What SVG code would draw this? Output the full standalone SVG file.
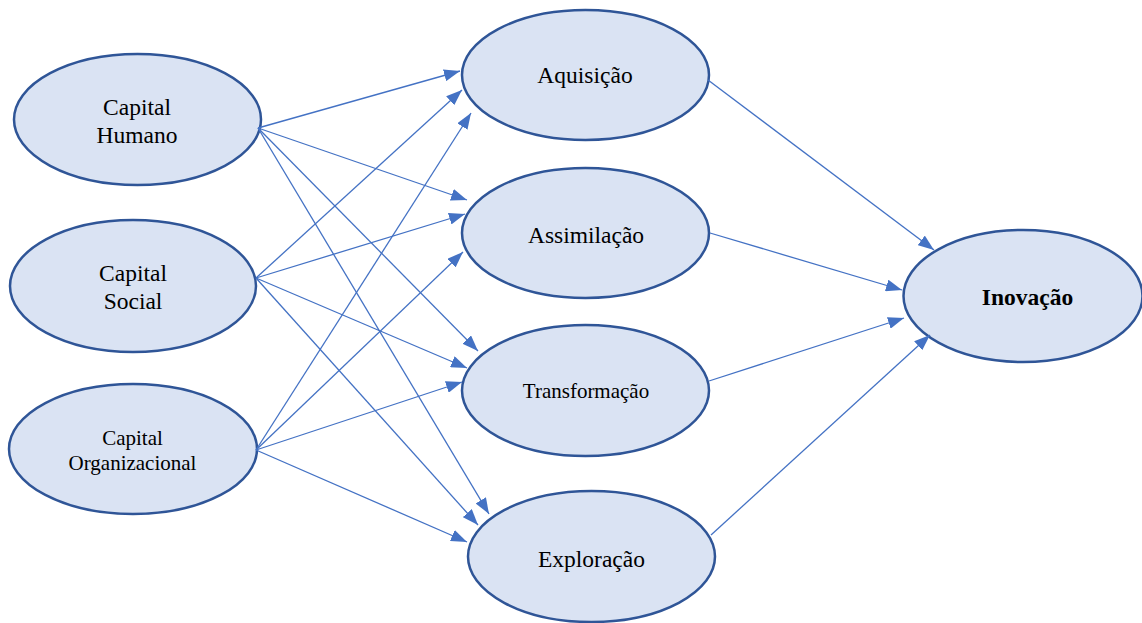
<svg xmlns="http://www.w3.org/2000/svg" width="1142" height="623" viewBox="0 0 1142 623">
  <style>
    .node ellipse { fill: #DAE3F3; stroke: #2F5597; stroke-width: 2.5; }
    .node text { font-family: "Liberation Serif", "Times New Roman", serif; fill: #000; text-anchor: middle; }
    .t24 { font-size: 23.5px; }
    .t21 { font-size: 21px; }
    .bold { font-weight: bold; }
    #connectors line { stroke: #4472C4; stroke-width: 1.3; marker-end: url(#arrow); }
  </style>
  <defs>
    <marker id="arrow" markerUnits="userSpaceOnUse" markerWidth="16" markerHeight="12" refX="16" refY="6" orient="auto">
      <path d="M0,0 L16,6 L0,12 z" fill="#4472C4"/>
    </marker>
  </defs>
  <rect width="1142" height="623" fill="#fff"/>

  <!-- capital nodes (left column) -->
  <g id="capital-humano" class="node">
    <ellipse cx="137.5" cy="119.5" rx="123.5" ry="65.5"/>
    <text class="t24" x="137" y="115">Capital</text>
    <text class="t24" x="137" y="143">Humano</text>
  </g>
  <g id="capital-social" class="node">
    <ellipse cx="133" cy="286" rx="123" ry="66"/>
    <text class="t24" x="133" y="281">Capital</text>
    <text class="t24" x="133" y="309">Social</text>
  </g>
  <g id="capital-organizacional" class="node">
    <ellipse cx="133" cy="449" rx="124" ry="65"/>
    <text class="t21" x="132.5" y="445">Capital</text>
    <text class="t21" x="132.5" y="470">Organizacional</text>
  </g>

  <!-- absorptive capacity dimensions (middle column) -->
  <g id="aquisicao" class="node">
    <ellipse cx="585.5" cy="75" rx="123.5" ry="65"/>
    <text class="t24" x="585" y="83">Aquisição</text>
  </g>
  <g id="assimilacao" class="node">
    <ellipse cx="585.5" cy="233" rx="123.5" ry="65"/>
    <text class="t24" x="586" y="243">Assimilação</text>
  </g>
  <g id="transformacao" class="node">
    <ellipse cx="585.5" cy="390.5" rx="123.5" ry="65.5"/>
    <text class="t21" x="586" y="398">Transformação</text>
  </g>
  <g id="exploracao" class="node">
    <ellipse cx="591.5" cy="556.5" rx="123.5" ry="65.5"/>
    <text class="t24" x="591.5" y="567">Exploração</text>
  </g>

  <!-- outcome -->
  <g id="inovacao" class="node">
    <ellipse cx="1023" cy="296" rx="119.5" ry="66"/>
    <text class="t24 bold" x="1027.5" y="305">Inovação</text>
  </g>

  <g id="connectors">
    <!-- Capital Humano -->
    <line x1="258" y1="128" x2="460" y2="71"/>
    <line x1="258" y1="128" x2="467" y2="200"/>
    <line x1="258" y1="128" x2="478" y2="351"/>
    <line x1="258" y1="128" x2="489" y2="514"/>
    <!-- Capital Social -->
    <line x1="256" y1="278" x2="462" y2="90"/>
    <line x1="256" y1="278" x2="465" y2="214"/>
    <line x1="256" y1="278" x2="467" y2="368"/>
    <line x1="256" y1="278" x2="478" y2="525"/>
    <!-- Capital Organizacional -->
    <line x1="256" y1="450" x2="471" y2="113"/>
    <line x1="256" y1="450" x2="463" y2="252"/>
    <line x1="256" y1="450" x2="462" y2="382"/>
    <line x1="256" y1="450" x2="467" y2="542"/>
    <!-- dimensions to Inovação -->
    <line x1="708" y1="80" x2="934" y2="250"/>
    <line x1="710" y1="233" x2="902" y2="290"/>
    <line x1="709" y1="381" x2="904" y2="318"/>
    <line x1="711" y1="535" x2="930" y2="335"/>
  </g>
</svg>
